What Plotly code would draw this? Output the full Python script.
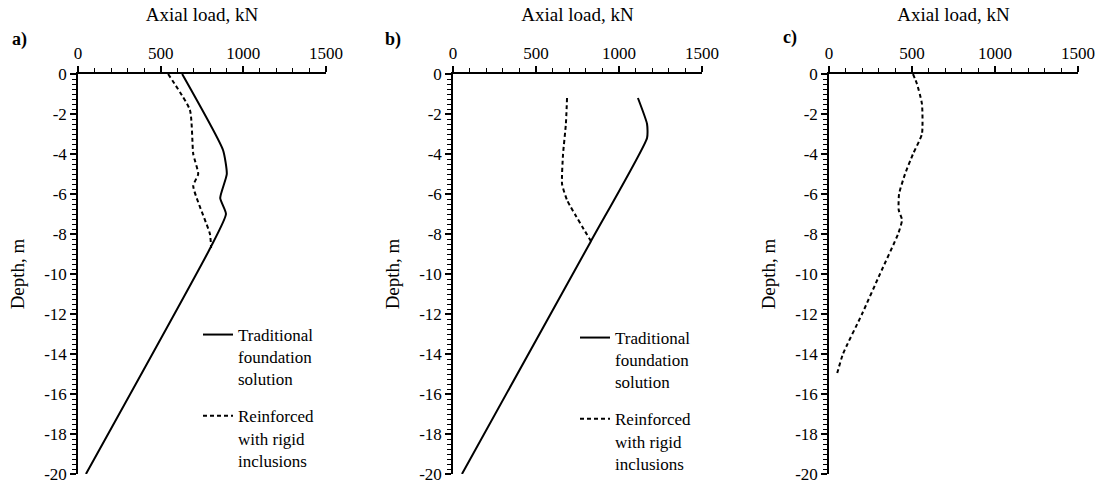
import plotly.graph_objects as go

# Panel a) data
a_trad_load = [630, 877, 900, 860, 895, 800, 48]
a_trad_depth = [0, -3.8, -5.0, -6.2, -7.0, -8.7, -20]
a_reinf_load = [545, 677, 697, 727, 697, 798, 805]
a_reinf_depth = [0, -1.8, -4.0, -5.0, -5.6, -8.0, -8.7]

# Panel b) data
b_trad_load = [1114, 1169, 1169, 831, 54]
b_trad_depth = [-1.2, -2.5, -3.2, -8.36, -20]
b_reinf_load = [687, 680, 663, 657, 687, 831]
b_reinf_depth = [-1.2, -2.5, -4.0, -5.5, -6.3, -8.36]

# Panel c) data
c_reinf_load = [506, 530, 560, 560, 506, 458, 422, 420, 440, 416, 307, 199, 84, 48]
c_reinf_depth = [0, -0.5, -1.5, -3.0, -4.0, -5.0, -6.0, -6.8, -7.3, -8.0, -10, -12, -14, -15]

x_ticks = [0, 500, 1000, 1500]
y_ticks = list(range(0, -21, -2))
y_ticktext = [str(v) for v in y_ticks]  # plain hyphen minus as in the source

trad_name = "Traditional<br>foundation<br>solution"
reinf_name = "Reinforced<br>with rigid<br>inclusions"

FONT = "Liberation Serif"
solid = dict(color="black", width=2, shape="spline", smoothing=0.5)
dashed = dict(color="black", width=2, dash="4px,3px", shape="spline", smoothing=0.5)

fig = go.Figure()
fig.add_trace(go.Scatter(x=a_trad_load, y=a_trad_depth, mode="lines", line=solid,
                         name=trad_name, legendgroup="a1", xaxis="x", yaxis="y", legend="legend"))
fig.add_trace(go.Scatter(x=a_reinf_load, y=a_reinf_depth, mode="lines", line=dashed,
                         name=reinf_name, legendgroup="a2", xaxis="x", yaxis="y", legend="legend"))
fig.add_trace(go.Scatter(x=b_trad_load, y=b_trad_depth, mode="lines", line=solid,
                         name=trad_name, legendgroup="b1", xaxis="x2", yaxis="y2", legend="legend2"))
fig.add_trace(go.Scatter(x=b_reinf_load, y=b_reinf_depth, mode="lines", line=dashed,
                         name=reinf_name, legendgroup="b2", xaxis="x2", yaxis="y2", legend="legend2"))
fig.add_trace(go.Scatter(x=c_reinf_load, y=c_reinf_depth, mode="lines", line=dashed,
                         showlegend=False, xaxis="x3", yaxis="y3"))

W, H = 1102, 484
ydom = [1 - 474 / H, 1 - 74 / H]
xdoms = [[78 / W, 326 / W], [453 / W, 702 / W], [829 / W, 1078 / W]]

def xaxis(dom, anchor):
    return dict(domain=dom, anchor=anchor, side="top", range=[0, 1500], automargin=False,
                tickvals=x_ticks, ticks="outside", ticklen=6, tickwidth=1.5,
                tickcolor="black", showline=True, linecolor="black", linewidth=2,
                showgrid=False, zeroline=False, ticklabeloverflow="allow",
                minor=dict(dtick=100, ticks="outside", ticklen=4, tickcolor="black", tickwidth=1.2),
                tickfont=dict(family=FONT, size=17, color="black"),
                title=dict(text="Axial load, kN", font=dict(family=FONT, size=19, color="black"),
                           standoff=18))

def yaxis(anchor):
    return dict(domain=ydom, anchor=anchor, range=[-20, 0], automargin=False,
                tickvals=y_ticks, ticktext=y_ticktext, ticks="outside", ticklen=6, tickwidth=1.5,
                tickcolor="black", showline=True, linecolor="black", linewidth=1.5,
                showgrid=False, zeroline=False, ticklabeloverflow="allow",
                minor=dict(dtick=0.25, ticks="outside", ticklen=4, tickcolor="black", tickwidth=1),
                tickfont=dict(family=FONT, size=17, color="black"),
                title=dict(text="Depth, m", font=dict(family=FONT, size=19, color="black"),
                           standoff=15))

leg_common = dict(font=dict(family=FONT, size=17, color="black"), valign="top",
                  bgcolor="rgba(0,0,0,0)", tracegroupgap=12, traceorder="grouped", itemwidth=30,
                  xanchor="left", yanchor="top", xref="paper", yref="paper")

fig.update_layout(
    width=W, height=H,
    margin=dict(l=0, r=0, t=0, b=0, autoexpand=False),
    paper_bgcolor="white", plot_bgcolor="white",
    showlegend=True,
    xaxis=xaxis(xdoms[0], "y"), yaxis=yaxis("x"),
    xaxis2=xaxis(xdoms[1], "y2"), yaxis2=yaxis("x2"),
    xaxis3=xaxis(xdoms[2], "y3"), yaxis3=yaxis("x3"),
    legend=dict(x=198 / W, y=1 - 317 / H, **leg_common),
    legend2=dict(x=575 / W, y=1 - 320 / H, **leg_common),
    annotations=[
        dict(text="<b>a)</b>", x=10 / W, y=1 - 40 / H, xref="paper", yref="paper",
             xanchor="left", yanchor="middle", showarrow=False,
             font=dict(family=FONT, size=18, color="black")),
        dict(text="<b>b)</b>", x=383 / W, y=1 - 40 / H, xref="paper", yref="paper",
             xanchor="left", yanchor="middle", showarrow=False,
             font=dict(family=FONT, size=18, color="black")),
        dict(text="<b>c)</b>", x=781 / W, y=1 - 37 / H, xref="paper", yref="paper",
             xanchor="left", yanchor="middle", showarrow=False,
             font=dict(family=FONT, size=18, color="black")),
    ],
)

fig.write_html("out.html", config={"displayModeBar": False},
               post_script="document.body.style.margin='0';")
